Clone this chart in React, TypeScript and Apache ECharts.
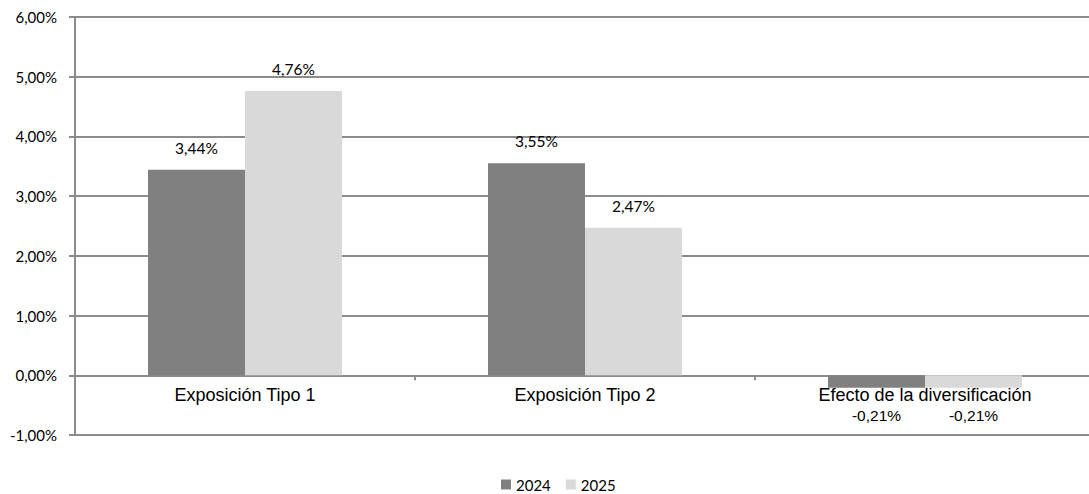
import React, { useEffect, useRef } from "react";
import * as echarts from "echarts";

const categories = ["Exposición Tipo 1", "Exposición Tipo 2", "Efecto de la diversificación"];
const series2024 = [3.44, 3.55, -0.21];
const series2025 = [4.76, 2.47, -0.21];
const yMin = -1;
const yMax = 6;
const yInterval = 1;

const fmt = (v: number) => v.toFixed(2).replace(".", ",") + "%";

const numFont = "Lato";
const catFont = "'Liberation Sans', Arial, sans-serif";

function makeData(values: number[]) {
  return values.map((v) => ({
    value: v,
    label:
      v < 0
        ? { position: "bottom" as const, distance: 23, fontFamily: catFont, fontSize: 15.5, lineHeight: 10 }
        : { position: "top" as const, distance: 14 },
  }));
}

export default function App() {
  const ref = useRef<HTMLDivElement>(null);
  useEffect(() => {
    if (!ref.current) return;
    const chart = echarts.init(ref.current, null, { renderer: "svg" });
    const labelCommon = {
      show: true,
      formatter: (p: any) => fmt(p.value),
      fontFamily: numFont,
      fontSize: 15.5,
      color: "#000",
    };
    chart.setOption({
      animation: false,
      backgroundColor: "#fff",
      grid: { left: 75, top: 17, width: 1020, height: 418, containLabel: false },
      legend: {
        left: 496,
        top: 472,
        itemWidth: 10,
        itemHeight: 10,
        itemGap: 15,
        icon: "rect",
        textStyle: { fontFamily: numFont, fontSize: 15, color: "#000" },
        data: ["2024", "2025"],
      },
      xAxis: {
        type: "category",
        data: categories,
        axisLine: { onZero: true, lineStyle: { color: "#8c8c8c", width: 2 } },
        axisTick: { show: true, alignWithLabel: false, length: 5, lineStyle: { color: "#8c8c8c", width: 2 } },
        axisLabel: { margin: -47, fontFamily: catFont, fontSize: 18, lineHeight: 14, color: "#000", interval: 0 },
        splitLine: { show: false },
      },
      yAxis: {
        type: "value",
        min: yMin,
        max: yMax,
        interval: yInterval,
        axisLine: { show: true, lineStyle: { color: "#8c8c8c", width: 2 } },
        axisTick: { show: true, length: 6, lineStyle: { color: "#8c8c8c", width: 2 } },
        axisLabel: { formatter: (v: number) => fmt(v), fontFamily: numFont, fontSize: 15, color: "#000", margin: 18 },
        splitLine: { show: true, lineStyle: { color: "#8c8c8c", width: 2 } },
      },
      series: [
        {
          name: "2024",
          type: "bar",
          data: makeData(series2024),
          barWidth: 97,
          barGap: "0%",
          itemStyle: { color: "#808080" },
          label: labelCommon,
        },
        {
          name: "2025",
          type: "bar",
          data: makeData(series2025),
          barWidth: 97,
          barGap: "0%",
          itemStyle: { color: "#d9d9d9" },
          label: labelCommon,
        },
      ],
    });
    return () => chart.dispose();
  }, []);
  return (
    <div style={{ position: "fixed", left: 0, top: 0, width: 1089, height: 494, overflow: "hidden" }}>
      <div ref={ref} style={{ width: 1110, height: 494 }} />
    </div>
  );
}
